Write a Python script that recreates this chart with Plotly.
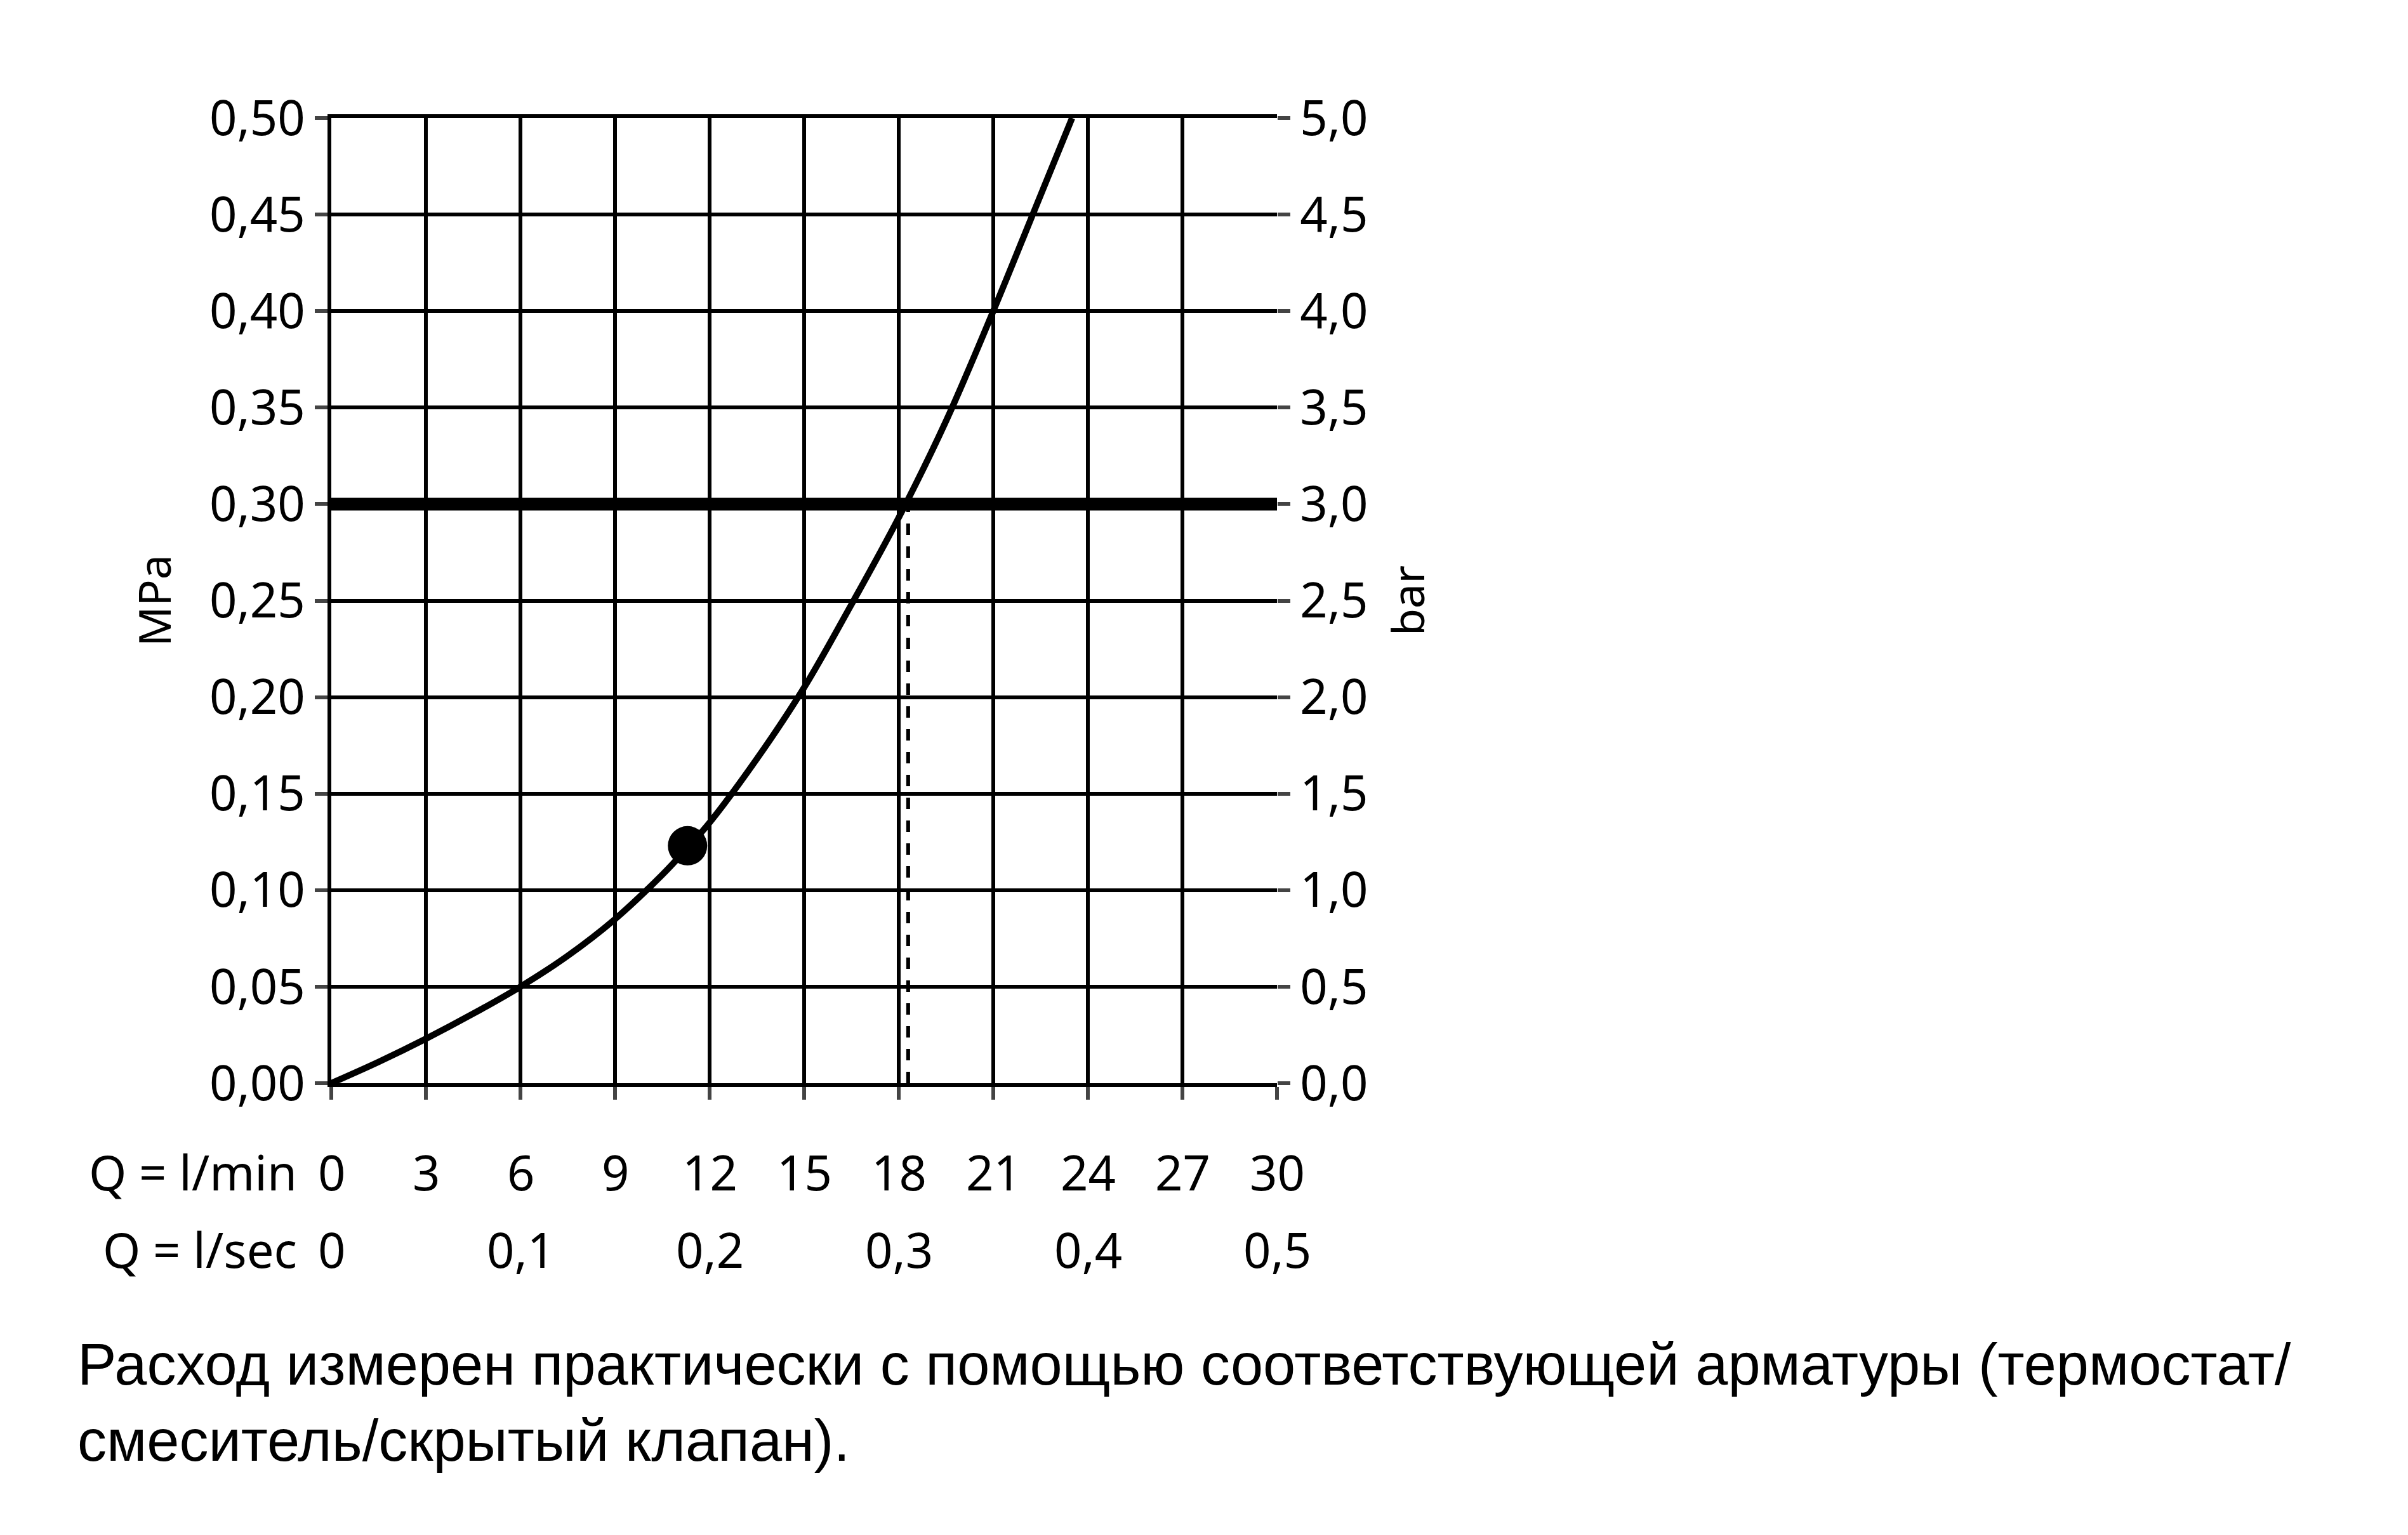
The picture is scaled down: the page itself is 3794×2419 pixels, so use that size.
import plotly.graph_objects as go

# flow curve (l/min vs MPa)
flow_lmin = [0, 1.5, 3, 4.5, 6, 7.5, 9, 10.5, 11.3, 12, 13.5, 15, 16.5, 18, 19.5, 21, 22.3, 23.5]
pressure_mpa = [0, 0.011, 0.023, 0.036, 0.050, 0.066, 0.085, 0.108, 0.122, 0.135, 0.168, 0.205, 0.248, 0.293, 0.343, 0.40, 0.452, 0.50]
point_x = [11.3]
point_y = [0.123]
limit_mpa = 0.30
limit_flow = 18.3

lmin_ticks = [0, 3, 6, 9, 12, 15, 18, 21, 24, 27, 30]
lsec_pos = [0, 6, 12, 18, 24, 30]
lsec_labels = ["0", "0,1", "0,2", "0,3", "0,4", "0,5"]
mpa_ticks = [0, 0.05, 0.10, 0.15, 0.20, 0.25, 0.30, 0.35, 0.40, 0.45, 0.50]
mpa_labels = ["0,00", "0,05", "0,10", "0,15", "0,20", "0,25", "0,30", "0,35", "0,40", "0,45", "0,50"]
bar_ticks = [0, 0.5, 1, 1.5, 2, 2.5, 3, 3.5, 4, 4.5, 5]
bar_labels = ["0,0", "0,5", "1,0", "1,5", "2,0", "2,5", "3,0", "3,5", "4,0", "4,5", "5,0"]

FONT = "Noto Sans"
fs = 76

fig = go.Figure()
fig.add_trace(go.Scatter(x=[0, 30], y=[limit_mpa, limit_mpa], mode="lines",
                         line=dict(color="black", width=20), showlegend=False))
fig.add_trace(go.Scatter(x=[limit_flow, limit_flow], y=[0, limit_mpa], mode="lines",
                         line=dict(color="black", width=6, dash="dash"), showlegend=False))
fig.add_trace(go.Scatter(x=flow_lmin, y=pressure_mpa, mode="lines",
                         line=dict(color="black", width=10, shape="spline"), showlegend=False))
fig.add_trace(go.Scatter(x=point_x, y=point_y, mode="markers",
                         marker=dict(color="black", size=62), showlegend=False))
fig.add_trace(go.Scatter(x=[0], y=[0], yaxis="y2", mode="markers",
                         marker=dict(opacity=0), showlegend=False, hoverinfo="skip"))

fig.update_layout(
    width=3794, height=2419, plot_bgcolor="white", paper_bgcolor="white",
    margin=dict(l=514, r=1790, t=178, b=720),
    font=dict(family=FONT, size=fs, color="black"),
    xaxis=dict(range=[0, 30], tickvals=lmin_ticks, showticklabels=False,
               showgrid=True, gridcolor="black", gridwidth=6, zeroline=False,
               showline=True, linecolor="black", linewidth=6, mirror=True,
               ticks="outside", ticklen=20, tickwidth=6),
    yaxis=dict(range=[0, 0.5], tickvals=mpa_ticks, ticktext=mpa_labels,
               showgrid=True, gridcolor="black", gridwidth=6, zeroline=False,
               showline=True, linecolor="black", linewidth=6,
               ticks="outside", ticklen=20, tickwidth=6,
               title=dict(text="MPa", standoff=40, font=dict(size=70))),
    yaxis2=dict(range=[0, 5], tickvals=bar_ticks, ticktext=bar_labels,
                overlaying="y", side="right", showgrid=False, zeroline=False,
                ticks="outside", ticklen=20, tickwidth=6,
                title=dict(text="bar", standoff=40, font=dict(size=70))),
)

for v in lmin_ticks:
    fig.add_annotation(x=v, y=-0.127, xref="x", yref="paper", text=str(v),
                       showarrow=False, font=dict(size=fs))
for v, t in zip(lsec_pos, lsec_labels):
    fig.add_annotation(x=v, y=-0.207, xref="x", yref="paper", text=t,
                       showarrow=False, font=dict(size=fs))
fig.add_annotation(x=-0.035, y=-0.127, xref="paper", yref="paper", text="Q = l/min",
                   showarrow=False, xanchor="right", font=dict(size=fs))
fig.add_annotation(x=-0.035, y=-0.207, xref="paper", yref="paper", text="Q = l/sec",
                   showarrow=False, xanchor="right", font=dict(size=fs))
fig.add_annotation(x=-0.27, y=-0.405, xref="paper", yref="paper", xanchor="left", align="left",
                   text="Расход измерен практически с помощью соответствующей арматуры (термостат/<br>смеситель/скрытый клапан).",
                   showarrow=False, font=dict(family="Liberation Sans", size=92))

fig.write_html("out.html")
